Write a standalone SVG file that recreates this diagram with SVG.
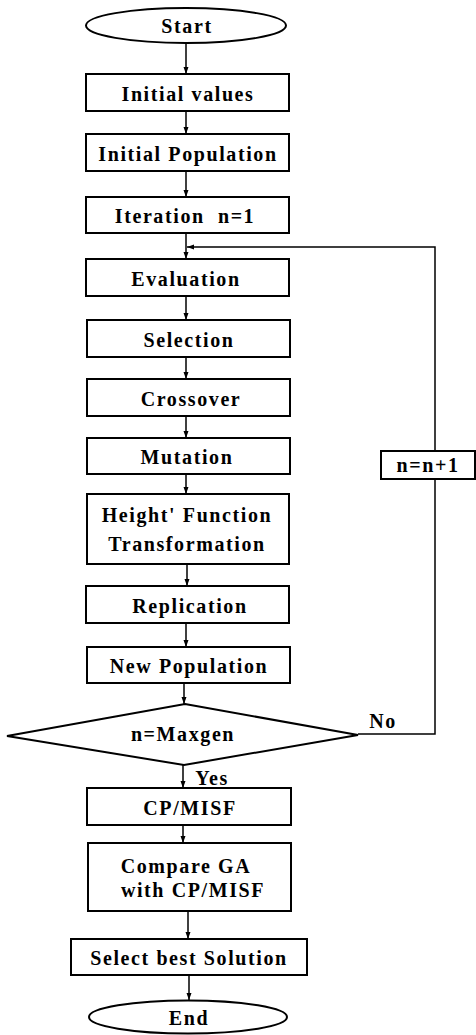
<svg xmlns="http://www.w3.org/2000/svg" width="476" height="1035" viewBox="0 0 476 1035">
<style>
.b{fill:#fff;stroke:#000;stroke-width:2}
.t{font-family:"Liberation Serif","Times New Roman",serif;font-weight:bold;font-size:20px;letter-spacing:1.6px;text-anchor:middle;fill:#000}
.c{fill:none;stroke:#000;stroke-width:1.5}
</style>
<defs>
<marker id="ah" markerWidth="8" markerHeight="8" refX="7" refY="4" orient="auto" markerUnits="userSpaceOnUse">
<path d="M0,1.5 L7,4 L0,6.5 Z" fill="#000"/>
</marker>
</defs>
<rect width="476" height="1035" fill="#fff"/>
<g id="connectors">
<line class="c" x1="186" y1="43" x2="186" y2="74" marker-end="url(#ah)"/>
<line class="c" x1="186" y1="111" x2="186" y2="134" marker-end="url(#ah)"/>
<line class="c" x1="186" y1="171" x2="186" y2="197" marker-end="url(#ah)"/>
<line class="c" x1="186" y1="233" x2="186" y2="259" marker-end="url(#ah)"/>
<line class="c" x1="186" y1="296" x2="186" y2="320" marker-end="url(#ah)"/>
<line class="c" x1="186" y1="357" x2="186" y2="379" marker-end="url(#ah)"/>
<line class="c" x1="186" y1="416" x2="186" y2="438" marker-end="url(#ah)"/>
<line class="c" x1="186" y1="474" x2="186" y2="494" marker-end="url(#ah)"/>
<line class="c" x1="187" y1="564" x2="187" y2="586" marker-end="url(#ah)"/>
<line class="c" x1="186" y1="623" x2="186" y2="647" marker-end="url(#ah)"/>
<line class="c" x1="184" y1="683" x2="184" y2="704" marker-end="url(#ah)"/>
<line class="c" x1="183" y1="765" x2="183" y2="788" marker-end="url(#ah)"/>
<line class="c" x1="183" y1="825" x2="183" y2="843" marker-end="url(#ah)"/>
<line class="c" x1="188" y1="911" x2="188" y2="939" marker-end="url(#ah)"/>
<line class="c" x1="189" y1="975" x2="189" y2="1000" marker-end="url(#ah)"/>
<polyline class="c" points="358,734 435,734 435,247 187,247" marker-end="url(#ah)"/>
<text class="t" x="383" y="728">No</text>
<text class="t" x="212" y="785">Yes</text>
</g>
<g id="start">
<ellipse class="b" cx="186" cy="25.5" rx="100" ry="17.5"/>
<text class="t" x="187" y="33">Start</text>
</g>
<g id="initial-values">
<rect class="b" x="86" y="74" width="203" height="37"/>
<text class="t" x="188" y="100.5">Initial values</text>
</g>
<g id="initial-population">
<rect class="b" x="86" y="134" width="203" height="37"/>
<text class="t" x="188" y="160.5">Initial Population</text>
</g>
<g id="iteration">
<rect class="b" x="86" y="197" width="203" height="36"/>
<text class="t" x="185" y="223" xml:space="preserve">Iteration  n=1</text>
</g>
<g id="evaluation">
<rect class="b" x="86" y="259" width="203" height="37"/>
<text class="t" x="186" y="285.5">Evaluation</text>
</g>
<g id="selection">
<rect class="b" x="87" y="320" width="203" height="37"/>
<text class="t" x="189" y="346.5">Selection</text>
</g>
<g id="crossover">
<rect class="b" x="87" y="379" width="203" height="37"/>
<text class="t" x="191" y="405.5">Crossover</text>
</g>
<g id="mutation">
<rect class="b" x="87" y="438" width="203" height="36"/>
<text class="t" x="187" y="464">Mutation</text>
</g>
<g id="height-function">
<rect class="b" x="87" y="494" width="202" height="70"/>
<text class="t" x="187" y="522">Height' Function</text>
<text class="t" x="187" y="551">Transformation</text>
</g>
<g id="replication">
<rect class="b" x="86" y="586" width="203" height="37"/>
<text class="t" x="190" y="612.5">Replication</text>
</g>
<g id="new-population">
<rect class="b" x="87" y="647" width="203" height="36"/>
<text class="t" x="189" y="673">New Population</text>
</g>
<g id="decision">
<polygon class="b" points="185,704 358,735 184,765 7,736"/>
<text class="t" x="183" y="741">n=Maxgen</text>
</g>
<g id="increment">
<rect class="b" x="381" y="451" width="94" height="28"/>
<text class="t" x="428" y="472">n=n+1</text>
</g>
<g id="cp-misf">
<rect class="b" x="87" y="788" width="204" height="37"/>
<text class="t" x="190" y="814.5">CP/MISF</text>
</g>
<g id="compare">
<rect class="b" x="88" y="843" width="203" height="68"/>
<text class="t" x="186" y="873">Compare GA</text>
<text class="t" x="193" y="897">with CP/MISF</text>
</g>
<g id="select-best">
<rect class="b" x="71" y="939" width="236" height="36"/>
<text class="t" x="189" y="965">Select best Solution</text>
</g>
<g id="end">
<ellipse class="b" cx="188" cy="1017" rx="99" ry="16.5"/>
<text class="t" x="189" y="1025">End</text>
</g>
</svg>
